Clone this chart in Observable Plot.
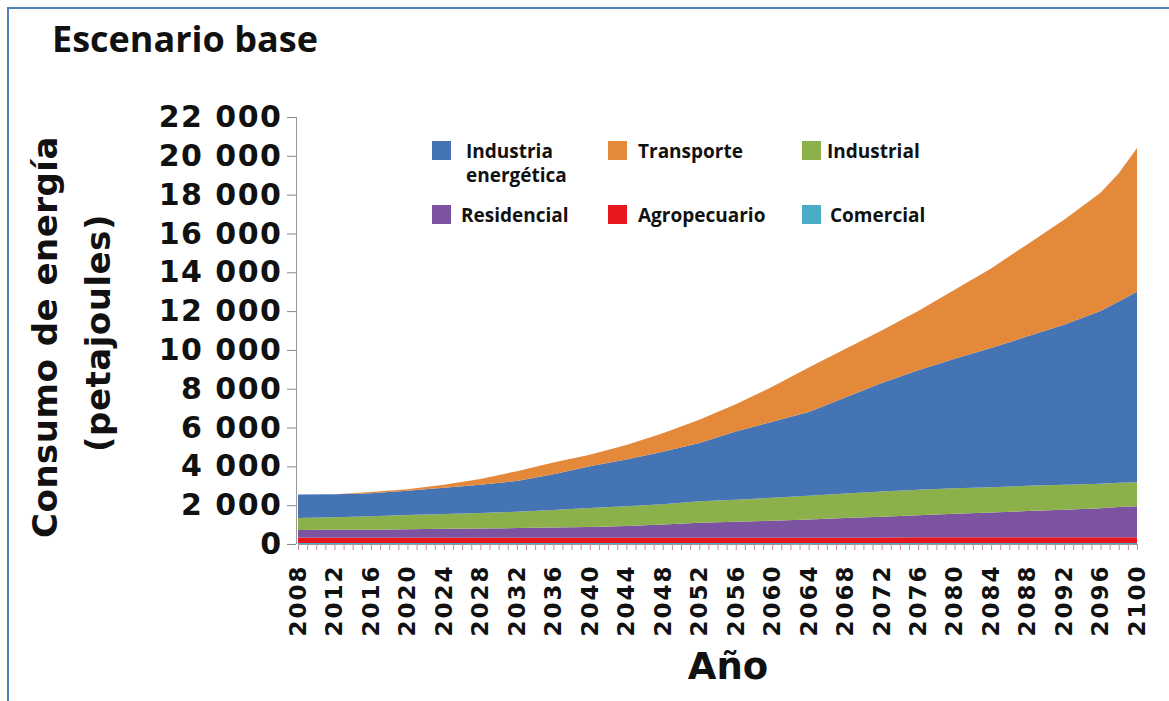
<!DOCTYPE html>
<html><head><meta charset="utf-8">
<script src="https://cdn.jsdelivr.net/npm/d3@7"></script>
<script src="https://cdn.jsdelivr.net/npm/@observablehq/plot@0.6"></script>
<style>
body{margin:0;background:#fff;width:1169px;height:701px;overflow:hidden;position:relative;}
#frame{position:absolute;left:7px;top:7px;width:1170px;height:700px;border-left:2px solid #4f81bd;border-top:2px solid #4f81bd;box-sizing:border-box;}
#chart{position:absolute;left:0;top:0;}
.t{position:absolute;font-weight:bold;white-space:nowrap;color:#111;}
.title{left:52px;top:14px;font-family:"Open Sans",sans-serif;font-size:36px;line-height:50px;}
.ylab{font-family:"DejaVu Sans",sans-serif;font-size:34px;transform:translate(-50%,-50%) rotate(-90deg);letter-spacing:0.5px;}
.xlab{font-family:"DejaVu Sans",sans-serif;font-size:37px;transform:translateX(-50%);}
.leg{font-family:"Open Sans",sans-serif;font-size:19px;line-height:20px;}
.sw{position:absolute;width:19px;height:19px;}
g[aria-label="y-axis tick label"] text{letter-spacing:1.5px;}
g[aria-label="x-axis tick label"] text{letter-spacing:2px;}
</style>
</head><body>
<div id="frame"></div>
<div id="chart"></div>
<div class="t title">Escenario base</div>
<div class="t ylab" style="left:45px;top:337px;">Consumo de energía</div>
<div class="t ylab" style="left:98px;top:333px;">(petajoules)</div>
<div class="t xlab" style="left:728px;top:645px;">Año</div>
<div id="legend"></div>
<script>
const years = [2008,2012,2016,2020,2024,2028,2032,2036,2040,2044,2048,2052,2056,2060,2064,2068,2072,2076,2080,2084,2088,2092,2096,2098,2100];
const comercial    = [50,50,50,50,50,50,50,50,50,50,50,50,50,50,50,50,50,50,50,50,50,50,50,50,50];
const agropecuario = [280,280,280,280,280,280,280,280,280,280,280,280,280,280,280,280,280,300,300,300,300,300,300,300,300];
const residencial  = [390,400,410,430,450,470,490,520,550,600,670,770,820,870,930,1010,1070,1130,1210,1270,1350,1410,1490,1550,1600];
const industrial   = [620,650,690,730,760,800,840,900,970,1010,1050,1100,1130,1180,1220,1260,1300,1320,1310,1310,1300,1290,1260,1250,1230];
const energetica   = [1210,1180,1190,1260,1360,1450,1590,1850,2150,2410,2700,3000,3520,3920,4320,4950,5600,6150,6680,7170,7700,8250,8900,9350,9820];
const transporte   = [0,0,60,70,150,300,500,600,600,750,950,1200,1400,1800,2300,2500,2700,3050,3550,4100,4750,5400,6100,6600,7400];

const series = ["Comercial","Agropecuario","Residencial","Industrial","Industria energética","Transporte"];
const colors = ["#4bacc6","#e8161e","#7b53a0","#8cb04a","#4574b4","#e4883a"];
const values = [comercial,agropecuario,residencial,industrial,energetica,transporte];
const yTicks = [0,2000,4000,6000,8000,10000,12000,14000,16000,18000,20000,22000];
const labelYears = [2008,2012,2016,2020,2024,2028,2032,2036,2040,2044,2048,2052,2056,2060,2064,2068,2072,2076,2080,2084,2088,2092,2096,2100];
const tickYears = d3.range(2008, 2101, 1);

const legendItems = [
  {lines:["Industria","energética"], color:"#4574b4", x:432, y:141, tx:466},
  {lines:["Transporte"], color:"#e4883a", x:608, y:141, tx:638},
  {lines:["Industrial"], color:"#8cb04a", x:802, y:141, tx:827},
  {lines:["Residencial"], color:"#7b53a0", x:432, y:205, tx:461},
  {lines:["Agropecuario"], color:"#e8161e", x:608, y:205, tx:638},
  {lines:["Comercial"], color:"#4bacc6", x:802, y:205, tx:830}
];

const data = [];
series.forEach((s,i) => years.forEach((yr,j) => data.push({year: yr, series: s, value: values[i][j]})));

const chart = Plot.plot({
  width: 1169, height: 701,
  marginLeft: 298, marginRight: 32, marginTop: 117, marginBottom: 157,
  style: {fontFamily: "DejaVu Sans, sans-serif", fontWeight: "bold", background: "transparent", color: "#111"},
  x: {domain: [2008, 2100]},
  y: {domain: [0, 22000]},
  color: {domain: series, range: colors},
  marks: [
    Plot.areaY(data, {x: "year", y: "value", fill: "series", order: series}),
    Plot.ruleY([0], {stroke: "#999"}),
    Plot.ruleX([2008], {stroke: "#999", dx: -2}),
    Plot.axisY({ticks: yTicks, tickFormat: d => d3.format(",")(d).replace(/,/g, " "), tickSize: 9, tickPadding: 5, fontSize: 30, label: null, stroke: "#888", dx: -2}),
    Plot.axisX({ticks: tickYears, tickFormat: () => "", tickSize: 6, stroke: "#c49090", label: null}),
    Plot.axisX({ticks: labelYears, tickFormat: d => String(d), tickSize: 0, tickPadding: 20, tickRotate: -90, fontSize: 23, label: null})
  ]
});
document.getElementById("chart").appendChild(chart);

const leg = document.getElementById("legend");
legendItems.forEach(it => {
  const sw = document.createElement("div");
  sw.className = "sw"; sw.style.left = it.x + "px"; sw.style.top = it.y + "px"; sw.style.background = it.color;
  leg.appendChild(sw);
  it.lines.forEach((ln, k) => {
    const tx = document.createElement("div");
    tx.className = "t leg"; tx.style.left = it.tx + "px"; tx.style.top = (it.y + k * 24) + "px";
    tx.textContent = ln;
    leg.appendChild(tx);
  });
});
</script>
</body></html>
